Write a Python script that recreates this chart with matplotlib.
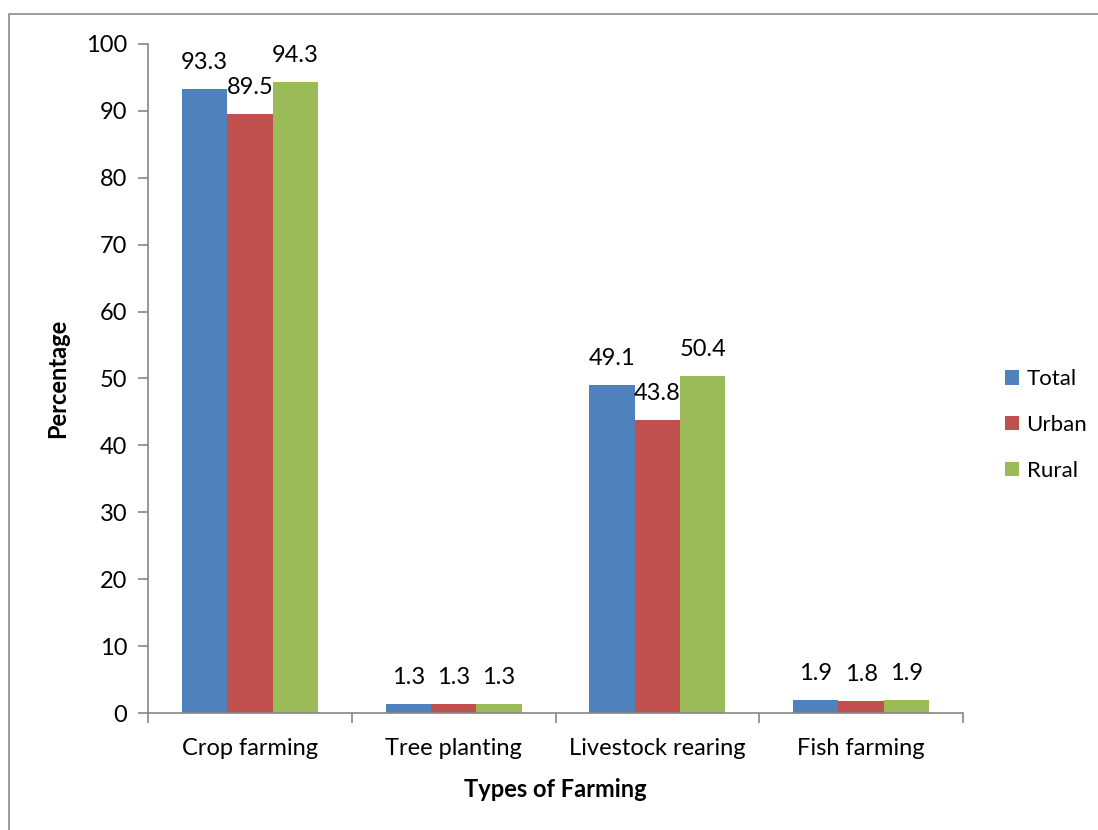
import matplotlib
matplotlib.use("Agg")
import matplotlib.pyplot as plt
import numpy as np
from matplotlib.patches import Rectangle

categories = ["Crop farming", "Tree planting", "Livestock rearing", "Fish farming"]
series_names = ["Total", "Urban", "Rural"]
total = [93.3, 1.3, 49.1, 1.9]
urban = [89.5, 1.3, 43.8, 1.8]
rural = [94.3, 1.3, 50.4, 1.9]
yticks = [0, 10, 20, 30, 40, 50, 60, 70, 80, 90, 100]

colors = ["#4F81BD", "#C0504D", "#9BBB59"]
axis_color = "#868686"
plt.rcParams['font.family'] = ['Lato', 'DejaVu Sans']
FS = 17

W, H = 1098, 830
fig = plt.figure(figsize=(W / 100, H / 100), dpi=100)
# outer chart border
fig.patches.append(Rectangle((9 / W, -0.1), 1.2, 1 - 14 / H + 0.1, transform=fig.transFigure,
                             fill=False, edgecolor="#8C8C8C", linewidth=1.2))

ax = fig.add_axes([148 / W, 1 - 713 / H, (963 - 148) / W, (713 - 44) / H])
x = np.arange(len(categories))
bw = 1 / 4.5
data = [total, urban, rural]
for i, (vals, col, name) in enumerate(zip(data, colors, series_names)):
    bars = ax.bar(x + (i - 1) * bw, vals, width=bw, color=col, label=name, linewidth=0)
    for b, v in zip(bars, vals):
        ax.annotate(f"{v:.1f}", (b.get_x() + b.get_width() / 2, v), xytext=(0, 19),
                    textcoords="offset points", ha="center", va="center", fontsize=FS)

ax.set_xlim(-0.5, len(categories) - 0.5)
ax.set_ylim(0, 100)
ax.set_yticks(yticks)
ax.set_yticklabels([str(t) for t in yticks], fontsize=FS)
ax.set_xticks(x)
ax.set_xticklabels(categories, fontsize=FS)
ax.set_xticks(np.arange(-0.5, len(categories)), minor=True)
ax.tick_params(axis="x", which="major", length=0, pad=18)
ax.tick_params(axis="x", which="minor", length=7, width=1.2, color=axis_color, direction="out")
ax.tick_params(axis="y", length=7, width=1.2, color=axis_color, direction="out", pad=8)
for s in ["top", "right"]:
    ax.spines[s].set_visible(False)
for s in ["left", "bottom"]:
    ax.spines[s].set_color(axis_color)
    ax.spines[s].set_linewidth(1.2)

ax.set_xlabel("Types of Farming", fontsize=FS, fontweight="bold", labelpad=14)
ax.set_ylabel("Percentage", fontsize=FS, fontweight="bold", labelpad=12)

leg = fig.legend(loc="center left", bbox_to_anchor=(1005 / W, 1 - 425 / H), frameon=False,
                 fontsize=16, handlelength=0.62, handleheight=0.62, handletextpad=0.35,
                 labelspacing=1.15, borderpad=0, borderaxespad=0)

fig.savefig("out.png", dpi=100)
